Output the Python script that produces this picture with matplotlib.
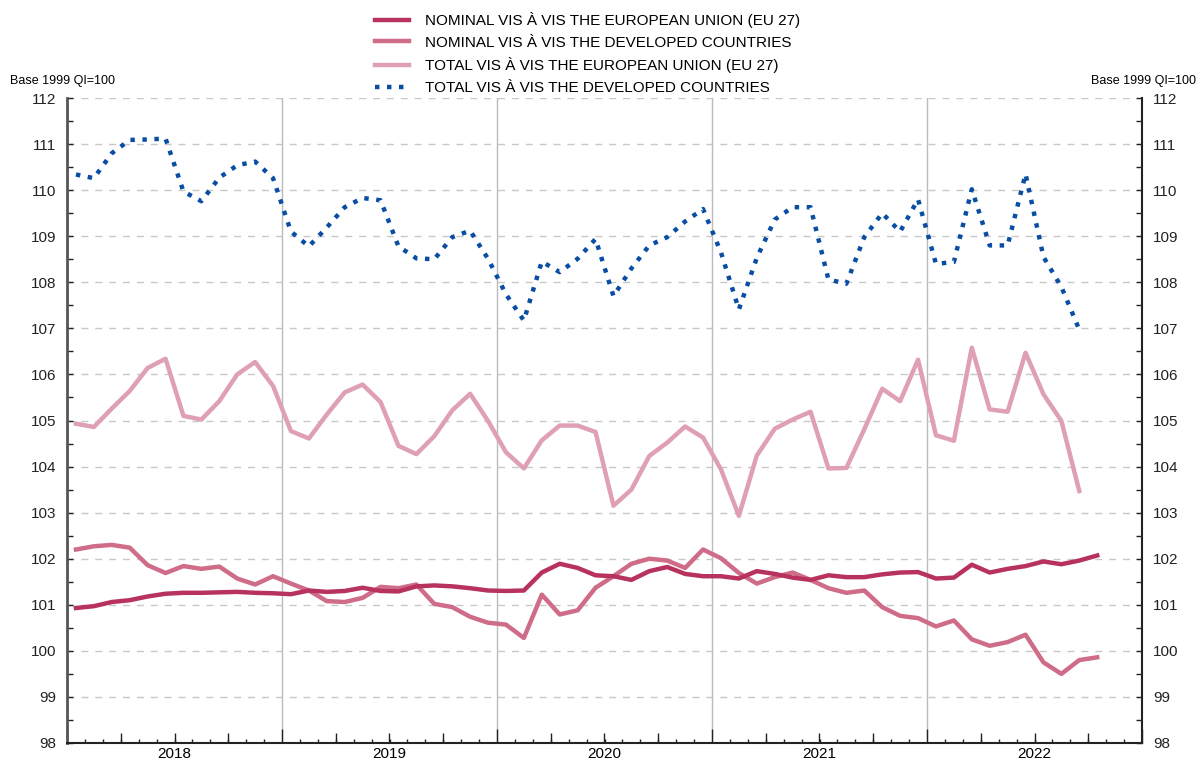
import numpy as np
import matplotlib
matplotlib.use("Agg")
import matplotlib.pyplot as plt
from matplotlib.ticker import MultipleLocator, FixedLocator, FuncFormatter

plt.rcParams['font.family'] = ['Liberation Sans', 'DejaVu Sans']

# monthly values from Jan 2018
nominal_eu = [100.93, 100.97, 101.06, 101.10, 101.18, 101.24, 101.26, 101.26, 101.27, 101.28,
              101.26, 101.25, 101.23, 101.31, 101.28, 101.30, 101.37, 101.30, 101.29, 101.40,
              101.42, 101.40, 101.36, 101.31, 101.30, 101.31, 101.70, 101.89, 101.80, 101.64,
              101.62, 101.54, 101.73, 101.82, 101.67, 101.62, 101.62, 101.57, 101.73, 101.67,
              101.59, 101.54, 101.64, 101.60, 101.60, 101.66, 101.70, 101.71, 101.57, 101.59,
              101.87, 101.70, 101.78, 101.84, 101.94, 101.88, 101.96, 102.07]
nominal_dev = [102.20, 102.27, 102.30, 102.24, 101.86, 101.69, 101.84, 101.78, 101.83, 101.57,
               101.44, 101.62, 101.46, 101.31, 101.08, 101.06, 101.15, 101.39, 101.36, 101.44,
               101.02, 100.95, 100.74, 100.61, 100.57, 100.28, 101.22, 100.79, 100.88, 101.37,
               101.62, 101.89, 102.00, 101.96, 101.80, 102.20, 102.01, 101.69, 101.46, 101.60,
               101.70, 101.54, 101.36, 101.26, 101.31, 100.95, 100.76, 100.71, 100.53, 100.66,
               100.25, 100.11, 100.19, 100.35, 99.75, 99.50, 99.80, 99.86]
total_eu = [104.93, 104.86, 105.26, 105.64, 106.14, 106.34, 105.10, 105.02, 105.42, 106.00,
            106.27, 105.75, 104.77, 104.61, 105.13, 105.61, 105.78, 105.40, 104.45, 104.27,
            104.66, 105.22, 105.58, 104.99, 104.31, 103.96, 104.57, 104.89, 104.89, 104.75,
            103.15, 103.50, 104.23, 104.52, 104.87, 104.63, 103.94, 102.93, 104.24, 104.82,
            105.02, 105.19, 103.96, 103.97, 104.81, 105.69, 105.42, 106.32, 104.68, 104.56,
            106.58, 105.24, 105.19, 106.47, 105.57, 104.99, 103.47]
total_dev = [110.34, 110.26, 110.80, 111.09, 111.10, 111.12, 109.97, 109.76, 110.27, 110.54,
             110.62, 110.26, 109.10, 108.78, 109.19, 109.63, 109.83, 109.78, 108.78, 108.52,
             108.50, 108.98, 109.12, 108.51, 107.74, 107.17, 108.45, 108.22, 108.51, 108.94,
             107.70, 108.30, 108.80, 108.98, 109.32, 109.59, 108.65, 107.41, 108.53, 109.36,
             109.63, 109.63, 108.06, 107.97, 108.98, 109.50, 109.10, 109.80, 108.40, 108.44,
             110.02, 108.80, 108.80, 110.35, 108.55, 107.90, 106.97]
years = ["2018", "2019", "2020", "2021", "2022"]

labels = ["NOMINAL VIS À VIS THE EUROPEAN UNION (EU 27)",
          "NOMINAL VIS À VIS THE DEVELOPED COUNTRIES",
          "TOTAL VIS À VIS THE EUROPEAN UNION (EU 27)",
          "TOTAL VIS À VIS THE DEVELOPED COUNTRIES"]
colors = ["#b8325e", "#cf6c88", "#dea0b2", "#0a4ea3"]

fig = plt.figure(figsize=(11.97, 7.63), dpi=100)
ax = fig.add_axes([67 / 1197, 1 - 743 / 763, (1142 - 67) / 1197, (743 - 98) / 763])

def xs(vals):
    return np.arange(len(vals)) + 0.5

ax.plot(xs(nominal_eu), nominal_eu, color=colors[0], lw=3.2, label=labels[0], zorder=5)
ax.plot(xs(nominal_dev), nominal_dev, color=colors[1], lw=3.2, label=labels[1], zorder=4)
ax.plot(xs(total_eu), total_eu, color=colors[2], lw=3.2, label=labels[2], zorder=3)
ax.plot(xs(total_dev), total_dev, color=colors[3], lw=3.2, ls=(0, (1, 1.7)),
        dash_capstyle='butt', label=labels[3], zorder=3)

n_months = 12 * len(years)
ax.set_xlim(0, n_months)
ax.set_ylim(98, 112)

# y axis
ax.yaxis.set_major_locator(MultipleLocator(1))
ax.yaxis.set_minor_locator(MultipleLocator(0.5))
ax.tick_params(axis='y', which='both', direction='in', left=True, right=True,
               labelleft=True, labelright=True, length=4, width=1, labelsize=11,
               colors='#222222')
ax.tick_params(axis='y', which='major', pad=8)
for y in range(99, 113):
    ax.axhline(y, color='#c8c8c8', lw=1, ls=(0, (5, 5)), zorder=1)

# x axis: years major, months minor
ax.xaxis.set_major_locator(FixedLocator(np.arange(0, n_months + 1, 12)))
ax.xaxis.set_minor_locator(FixedLocator(np.arange(0, n_months + 1, 1)))
ax.xaxis.set_major_formatter(FuncFormatter(lambda v, p: ""))
ax.xaxis.set_minor_formatter(FuncFormatter(
    lambda v, p: years[int(v) // 12] if int(v) % 12 == 6 and int(v) // 12 < len(years) else ""))
ax.tick_params(axis='x', which='major', direction='in', length=10, width=1, color='#222222')
ax.tick_params(axis='x', which='minor', direction='in', length=3, width=1, color='#222222',
               labelsize=11, pad=3)
for xv in range(12, n_months, 12):
    ax.axvline(xv, color='#bbbbbb', lw=1, zorder=1)

sec = ax.secondary_xaxis('bottom')
sec.set_xticks([q for q in range(3, n_months, 3) if q % 12 != 0])
sec.tick_params(direction='in', length=7, width=1, labelbottom=False, color='#222222')
sec.spines['bottom'].set_visible(False)

ax.spines['top'].set_visible(False)
ax.spines['left'].set_color('#555555')
ax.spines['left'].set_linewidth(2)
ax.spines['right'].set_color('#222222')
ax.spines['right'].set_linewidth(1.5)
ax.spines['bottom'].set_color('#222222')
ax.spines['bottom'].set_linewidth(1.5)

fig.text(10 / 1197, 1 - 81 / 763, "Base 1999 QI=100", fontsize=9, va='center', ha='left')
fig.text(1196 / 1197, 1 - 81 / 763, "Base 1999 QI=100", fontsize=9, va='center', ha='right')

fig.legend(loc='upper left', bbox_to_anchor=(375 / 1197, 1 - 12 / 763), frameon=False,
           fontsize=11, handlelength=2.2, handletextpad=1.1, labelspacing=0.5,
           borderaxespad=0, borderpad=0)

fig.savefig("out.png", dpi=100)
